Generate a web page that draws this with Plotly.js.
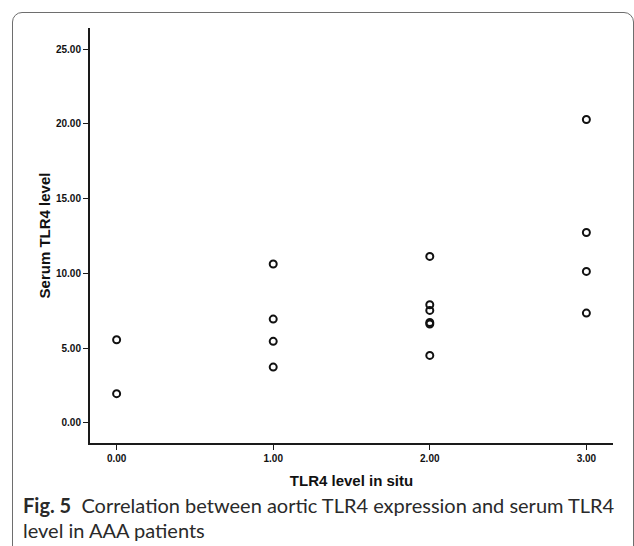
<!DOCTYPE html>
<html>
<head>
<meta charset="utf-8">
<script src="https://cdn.plot.ly/plotly-3.0.1.min.js"></script>
<style>
  html, body { margin: 0; padding: 0; width: 634px; height: 546px; overflow: hidden; background: #fff; }
  #frame { position: absolute; left: 12px; top: 12px; width: 622px; height: 700px;
           border: 1.5px solid #6e6e6e; border-radius: 10px; box-sizing: border-box; }
  #chart { position: absolute; left: 0; top: 0; width: 634px; height: 546px; }
</style>
</head>
<body>
<div id="frame"></div>
<div id="chart"></div>
<script>
// TLR4 level in situ (x) and serum TLR4 level (y), grouped by in-situ level
const inSituLevels = [0, 1, 2, 3];
const serumAtLevel0 = [5.57, 1.96];
const serumAtLevel1 = [10.63, 6.95, 5.46, 3.74];
const serumAtLevel2 = [11.14, 7.91, 7.53, 6.72, 6.62, 4.52];
const serumAtLevel3 = [20.30, 12.74, 10.14, 7.35];
const xTickValues = [0, 1, 2, 3];
const xTickLabels = ['0.00', '1.00', '2.00', '3.00'];
const yTickValues = [0, 5, 10, 15, 20, 25];
const yTickLabels = ['0.00', '5.00', '10.00', '15.00', '20.00', '25.00'];
const xTitle = 'TLR4 level in situ';
const yTitle = 'Serum TLR4 level';
const captionBold = 'Fig. 5';
const captionLine1 = 'Correlation between aortic TLR4 expression and serum TLR4';
const captionLine2 = 'level in AAA patients';

const groups = [serumAtLevel0, serumAtLevel1, serumAtLevel2, serumAtLevel3];
const xs = [], ys = [];
groups.forEach((g, i) => g.forEach(v => { xs.push(inSituLevels[i]); ys.push(v); }));

const tickFont = { family: 'Liberation Sans, Arial, sans-serif', size: 10, color: '#111', weight: 700 };
const titleFont = { family: 'Liberation Sans, Arial, sans-serif', size: 15, color: '#111', weight: 700 };
const captionFont = { family: 'Lato, Open Sans, sans-serif', size: 20, color: '#2a2a2a' };

const trace = {
  type: 'scatter', mode: 'markers', x: xs, y: ys,
  marker: { symbol: 'circle-open', size: 7, color: '#111', line: { width: 2, color: '#111' } },
  hoverinfo: 'x+y', showlegend: false
};

const layout = {
  width: 634, height: 546,
  margin: { l: 90, r: 21, t: 28, b: 103 },
  paper_bgcolor: 'rgba(0,0,0,0)', plot_bgcolor: 'rgba(0,0,0,0)',
  xaxis: {
    range: [-0.17, 3.17], showgrid: false, zeroline: false,
    showline: true, linewidth: 2, linecolor: '#1a1a1a',
    ticks: 'outside', ticklen: 5, tickwidth: 1, tickcolor: '#1a1a1a',
    tickvals: xTickValues, ticktext: xTickLabels, tickfont: tickFont,
    title: { text: xTitle, font: titleFont, standoff: 12 }, automargin: false
  },
  yaxis: {
    range: [-1.34, 26.42], showgrid: false, zeroline: false,
    showline: true, linewidth: 2, linecolor: '#1a1a1a',
    ticks: 'outside', ticklen: 5, tickwidth: 1, tickcolor: '#1a1a1a',
    tickvals: yTickValues, ticktext: yTickLabels, tickfont: tickFont,
    title: { text: yTitle, font: titleFont, standoff: 2 }, automargin: false
  },
  annotations: [
    { xref: 'paper', yref: 'paper', x: -0.131, y: -0.150, xanchor: 'left', yanchor: 'middle',
      text: '<b>' + captionBold + '</b>  ' + captionLine1, showarrow: false, font: captionFont },
    { xref: 'paper', yref: 'paper', x: -0.131, y: -0.210, xanchor: 'left', yanchor: 'middle',
      text: captionLine2, showarrow: false, font: captionFont }
  ]
};

Plotly.newPlot('chart', [trace], layout, { displayModeBar: false, staticPlot: true });
</script>
</body>
</html>
